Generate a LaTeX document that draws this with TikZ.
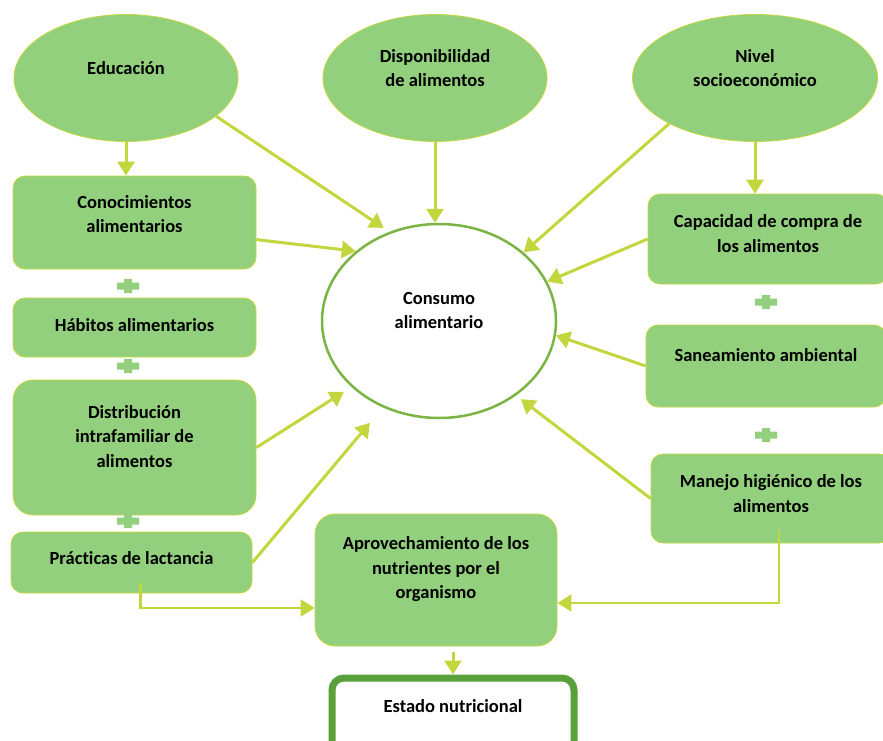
\documentclass[tikz,border=0pt]{standalone}
\usepackage{fontspec}
\setmainfont{Carlito}[Ligatures=NoCommon]
\usetikzlibrary{shapes.geometric,arrows.meta}

\definecolor{hoja}{RGB}{146,208,126}
\definecolor{lima}{RGB}{196,214,62}
\definecolor{verde}{RGB}{122,180,66}
\definecolor{oscuro}{RGB}{88,160,58}

\tikzset{
  factor/.style={ellipse, draw=lima, line width=0.8pt, fill=hoja, minimum width=224pt, minimum height=127pt},
  caja/.style={rectangle, rounded corners=12pt, draw=lima, line width=0.8pt, fill=hoja, minimum width=243pt},
  txt/.style={font=\fontsize{18.5}{24.5}\selectfont\bfseries, align=center},
  flecha/.style={draw=lima, line width=3pt, -{Triangle[length=14pt,width=17pt]}},
}

\begin{document}
\begin{tikzpicture}[x=1pt,y=-1pt]
  \useasboundingbox (0,0) rectangle (883,741);

  % factores de arriba
  \node[factor, label={[txt,yshift=10pt]center:Educación}] (edu) at (126,78) {};
  \node[factor, label={[txt,yshift=10pt]center:{Disponibilidad\\de alimentos}}] (disp) at (435,78) {};
  \node[factor, minimum width=245pt, label={[txt,yshift=10pt]center:{Nivel\\socioeconómico}}] (niv) at (755,78) {};

  % consumo en el centro
  \node[ellipse, draw=verde, line width=2.5pt, fill=white, minimum width=234pt, minimum height=194pt,
        label={[txt,yshift=10.5pt]center:{Consumo\\alimentario}}] (cons) at (439,321) {};

  % columna izquierda
  \node[caja, minimum height=93pt, label={[txt,yshift=8.5pt]center:{Conocimientos\\alimentarios}}] (conoc) at (134.5,222.5) {};
  \node[caja, minimum height=59pt, label={[txt,yshift=2.5pt]center:{Hábitos alimentarios}}] (hab) at (134.5,327.5) {};
  \node[caja, rounded corners=20pt, minimum height=135pt, label={[txt,yshift=11pt]center:{Distribución\\intrafamiliar de\\alimentos}}] (distrib) at (134.5,447.5) {};
  \node[caja, minimum width=241pt, minimum height=61pt, label={[txt,yshift=4.5pt]center:{Prácticas de lactancia}}] (pract) at (131.5,562.5) {};

  % columna derecha
  \node[caja, minimum width=240pt, minimum height=90pt, label={[txt,yshift=5.5pt]center:{Capacidad de compra de\\los alimentos}}] (capac) at (768,239) {};
  \node[caja, minimum width=240pt, minimum height=82pt, label={[txt,yshift=11pt]center:{Saneamiento ambiental}}] (san) at (766,366) {};
  \node[caja, minimum width=240pt, minimum height=89pt, label={[txt,yshift=5pt]center:{Manejo higiénico de los\\alimentos}}] (manejo) at (771,498.5) {};

  % abajo
  \node[caja, rounded corners=20pt, minimum width=242pt, minimum height=132pt,
        label={[txt,yshift=10.5pt]center:{Aprovechamiento de los\\nutrientes por el\\organismo}}] (aprov) at (436,580) {};
  \node[caja, draw=oscuro, line width=7pt, fill=white, minimum width=242pt, minimum height=90pt,
        label={[txt,yshift=17pt]center:{Estado nutricional}}] (estado) at (453,723) {};

  % signos +
  \foreach \px/\py in {128/286, 128/366, 128/521, 766/302, 766/435}
    \fill[hoja] (\px-11,\py-3.5) rectangle (\px+11,\py+3.5)
                (\px-4,\py-7) rectangle (\px+4,\py+7);

  % flechas de arriba
  \draw[flecha] (edu.south) -- (edu.south |- conoc.north);
  \draw[flecha, shorten >=7pt] (edu.-23) -- (cons.119);
  \draw[flecha] (disp.south) -- (disp.south |- cons.north);
  \draw[flecha] (niv.208) -- (cons.39);
  \draw[flecha] (niv.south) -- (niv.south |- capac.north);

  % flechas de la izquierda
  \draw[flecha] (conoc.-8) -- (cons.140);
  \draw[flecha, shorten >=9pt] (distrib.east) -- (cons.217);
  \draw[flecha, shorten >=20pt] (pract.east) -- (cons.237);

  % flechas de la derecha
  \draw[flecha] (capac.west) -- (cons.20);
  \draw[flecha] (san.west) -- (cons.-7);
  \draw[flecha, shorten >=6pt] (manejo.west) -- (cons.-44);

  % hacia el aprovechamiento
  \draw[flecha, line width=2.5pt] ([xshift=130pt,yshift=10pt]pract.south west) |- ([yshift=-28pt]aprov.west);
  \draw[flecha, line width=2pt] ([xshift=128pt,yshift=13pt]manejo.south west) |- ([yshift=-23pt]aprov.east);
  \draw[flecha, shorten <=6pt] (estado.north |- aprov.south) -- (estado.north);
\end{tikzpicture}
\end{document}
